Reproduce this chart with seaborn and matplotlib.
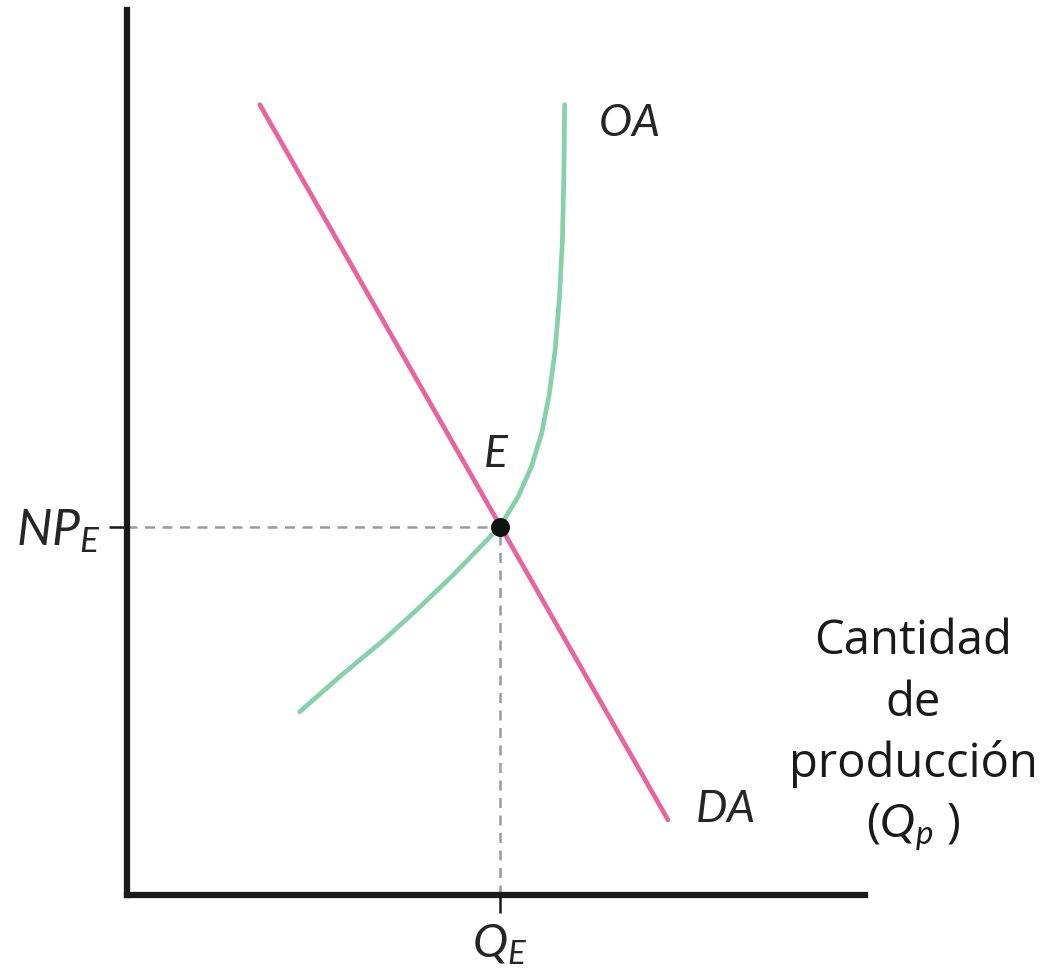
import matplotlib
matplotlib.use("Agg")
import matplotlib.pyplot as plt
import seaborn as sns

# aggregate demand (DA), straight line
da_x = [1.80, 7.33]
da_y = [8.93, 0.85]

# aggregate supply (OA)
oa_x = [2.34, 2.90, 3.45, 3.95, 4.40, 4.75, 5.05, 5.30, 5.48, 5.62, 5.72, 5.80, 5.86, 5.90, 5.92, 5.93]
oa_y = [2.07, 2.48, 2.86, 3.24, 3.60, 3.90, 4.16, 4.50, 4.84, 5.22, 5.65, 6.15, 6.75, 7.40, 8.15, 8.93]

# equilibrium
eq_x = 5.05
eq_y = 4.16

tick_labels = {"x": r"$Q_E$", "y": r"$NP_E$"}

sns.set_style("white")
plt.rcParams["font.family"] = ["Open Sans", "DejaVu Sans"]
plt.rcParams["mathtext.fontset"] = "custom"
plt.rcParams["mathtext.it"] = "Lato:italic"
plt.rcParams["mathtext.rm"] = "Lato"

fig = plt.figure(figsize=(10.44, 9.77), dpi=100)
ax = fig.add_axes([127 / 1044, (977 - 895) / 977, (865 - 127) / 1044, (895 - 10) / 977])
ax.set_xlim(0, 10)
ax.set_ylim(0, 10)

pink = "#e8649f"
green = "#86d1ab"

# dashed guides
ax.plot([0, eq_x], [eq_y, eq_y], color="#9a9a9a", lw=1.8, ls=(0, (4, 3)), zorder=1)
ax.plot([eq_x, eq_x], [0, eq_y], color="#9a9a9a", lw=1.8, ls=(0, (4, 3)), zorder=1)

sns.lineplot(x=da_x, y=da_y, sort=False, estimator=None, color=pink, lw=3.4, ax=ax, zorder=2)
sns.lineplot(x=oa_x, y=oa_y, sort=False, estimator=None, color=green, lw=3.4, ax=ax, zorder=3)
ax.scatter([eq_x], [eq_y], s=160, color="#111111", zorder=5)

sns.despine(ax=ax)
for side in ["left", "bottom"]:
    ax.spines[side].set_linewidth(4.5)
    ax.spines[side].set_color("#1a1a1a")

ax.set_xticks([eq_x])
ax.set_yticks([eq_y])
ax.set_xticklabels([tick_labels["x"]], fontsize=34)
ax.set_yticklabels([tick_labels["y"]], fontsize=36)
ax.tick_params(axis="both", direction="out", length=13, width=1.8, color="#1a1a1a",
               left=True, bottom=True, pad=6)
ax.tick_params(axis="x", pad=6)

ax.text(eq_x - 0.05, eq_y + 0.55, "$E$", fontsize=32, ha="center", va="bottom")
ax.text(6.38, 8.70, "$OA$", fontsize=32, ha="left", va="center")
ax.text(7.70, 0.95, "$DA$", fontsize=32, ha="left", va="center")

ax.text(10.65, 1.80, "Cantidad\nde\nproducción\n($Q_p$ )", fontsize=34,
        ha="center", va="center", linespacing=1.37, color="#1a1a1a")

fig.savefig("out.png", dpi=100)
